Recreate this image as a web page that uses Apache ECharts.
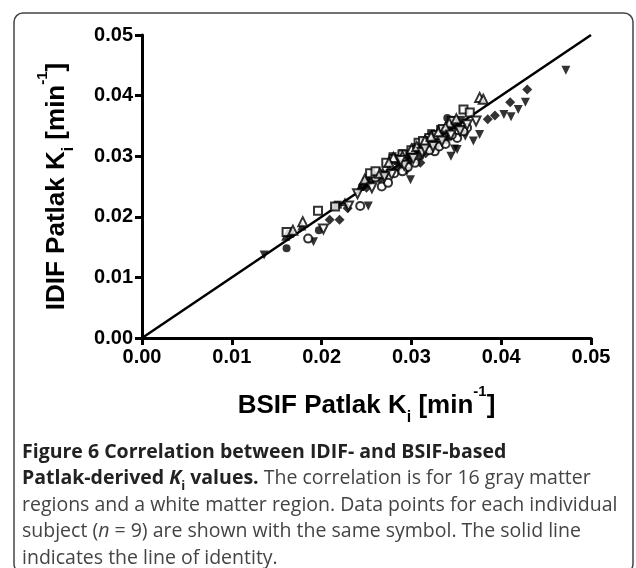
<!DOCTYPE html>
<html>
<head>
<meta charset="utf-8">
<script src="https://cdn.jsdelivr.net/npm/echarts@6/dist/echarts.min.js"></script>
<style>
html,body{margin:0;padding:0;background:#fff;}
#main{width:636px;height:568px;}
</style>
</head>
<body>
<div id="main"></div>
<script>
// Axis ticks
var xTicks = [0.00, 0.01, 0.02, 0.03, 0.04, 0.05];
var yTicks = [0.00, 0.01, 0.02, 0.03, 0.04, 0.05];

// Line of identity
var identity = [[0, 0], [0.05, 0.05]];

// Nine subjects, [BSIF Ki, IDIF Ki] per region (17 regions each)
var subjFilledTriDown = [[0.0136,0.0137],[0.0191,0.0159],[0.0252,0.0218],[0.0299,0.0261],[0.0344,0.0300],[0.0351,0.0311],[0.0360,0.0333],[0.0369,0.0325],[0.0376,0.0336],[0.0403,0.0369],[0.0411,0.0365],[0.0419,0.0377],[0.0427,0.0389],[0.0472,0.0442],[0.0348,0.0312],[0.0330,0.0318],[0.0295,0.0275]];
var subjFilledDiamond = [[0.0209,0.0195],[0.0220,0.0195],[0.0229,0.0214],[0.0310,0.0289],[0.0385,0.0361],[0.0393,0.0367],[0.0410,0.0389],[0.0429,0.0410],[0.0355,0.0345],[0.0340,0.0330],[0.0325,0.0315],[0.0300,0.0292],[0.0285,0.0280],[0.0265,0.0262],[0.0250,0.0248],[0.0316,0.0305],[0.0345,0.0338]];
var subjOpenCircle = [[0.0185,0.0164],[0.0243,0.0218],[0.0267,0.0250],[0.0274,0.0256],[0.0281,0.0272],[0.0304,0.0289],[0.0326,0.0308],[0.0331,0.0316],[0.0351,0.0330],[0.0362,0.0347],[0.0296,0.0282],[0.0290,0.0275],[0.0320,0.0310],[0.0338,0.0320],[0.0260,0.0265],[0.0345,0.0335],[0.0358,0.0341]];
var subjOpenSquare = [[0.0161,0.0175],[0.0196,0.0210],[0.0215,0.0217],[0.0254,0.0272],[0.0272,0.0289],[0.0308,0.0322],[0.0358,0.0377],[0.0365,0.0372],[0.0320,0.0330],[0.0290,0.0303],[0.0335,0.0345],[0.0300,0.0310],[0.0280,0.0295],[0.0260,0.0275],[0.0345,0.0358],[0.0328,0.0335],[0.0313,0.0325]];
var subjOpenTriUp = [[0.0168,0.0178],[0.0179,0.0192],[0.0376,0.0397],[0.0380,0.0394],[0.0248,0.0262],[0.0280,0.0298],[0.0300,0.0312],[0.0315,0.0326],[0.0330,0.0340],[0.0342,0.0355],[0.0290,0.0300],[0.0265,0.0272],[0.0322,0.0333],[0.0350,0.0362],[0.0306,0.0316],[0.0275,0.0290],[0.0338,0.0348]];
var subjFilledCircle = [[0.0161,0.0148],[0.0197,0.0178],[0.0340,0.0363],[0.0215,0.0218],[0.0245,0.0250],[0.0270,0.0270],[0.0285,0.0295],[0.0295,0.0300],[0.0305,0.0310],[0.0318,0.0322],[0.0328,0.0332],[0.0336,0.0342],[0.0345,0.0360],[0.0310,0.0300],[0.0290,0.0285],[0.0255,0.0262],[0.0350,0.0350]];
var subjFilledSquare = [[0.0165,0.0172],[0.0218,0.0220],[0.0279,0.0300],[0.0322,0.0338],[0.0337,0.0327],[0.0290,0.0305],[0.0300,0.0303],[0.0312,0.0318],[0.0332,0.0345],[0.0342,0.0350],[0.0348,0.0355],[0.0325,0.0328],[0.0285,0.0292],[0.0262,0.0268],[0.0250,0.0258],[0.0305,0.0315],[0.0355,0.0360]];
var subjFilledTriUp = [[0.0226,0.0225],[0.0243,0.0250],[0.0249,0.0261],[0.0178,0.0185],[0.0160,0.0168],[0.0275,0.0280],[0.0288,0.0298],[0.0298,0.0308],[0.0317,0.0327],[0.0328,0.0338],[0.0338,0.0345],[0.0345,0.0352],[0.0352,0.0358],[0.0308,0.0318],[0.0268,0.0275],[0.0295,0.0292],[0.0322,0.0322]];
var subjOpenTriDown = [[0.0202,0.0180],[0.0230,0.0218],[0.0256,0.0248],[0.0278,0.0270],[0.0292,0.0285],[0.0302,0.0296],[0.0312,0.0306],[0.0324,0.0316],[0.0334,0.0325],[0.0344,0.0335],[0.0354,0.0342],[0.0362,0.0352],[0.0372,0.0358],[0.0288,0.0293],[0.0315,0.0312],[0.0270,0.0266],[0.0240,0.0238]];

var chart = echarts.init(document.getElementById('main'), null, {renderer: 'canvas'});

function sc(name, data, symbol, rotate, size, empty) {
  return {
    name: name, type: 'scatter', data: data, symbol: symbol,
    symbolRotate: rotate, symbolSize: size, z: 3,
    itemStyle: empty ? {color: '#000', borderColor: '#000', borderWidth: 2} : {color: '#000', borderWidth: 0},
    emphasis: {disabled: true}
  };
}

var sansB = 'Liberation Sans, Arial, Helvetica, sans-serif';
var axisFont = {fontFamily: sansB, fontWeight: 'bold', fontSize: 20, color: '#000'};
var titleRich = {
  sub: {fontFamily: sansB, fontWeight: 'bold', fontSize: 16, verticalAlign: 'bottom', padding: [0,0,-7,0], color: '#000'},
  sup: {fontFamily: sansB, fontWeight: 'bold', fontSize: 15, verticalAlign: 'top', padding: [-9,0,0,0], color: '#000'}
};

var capFont = 'Open Sans, Noto Sans, sans-serif';
var capSize = 19.5;

var option = {
  animation: false,
  backgroundColor: '#fff',
  grid: {left: 142, right: 45, top: 35, bottom: 230},
  xAxis: {
    type: 'value', min: 0, max: 0.05, interval: 0.01,
    name: 'BSIF Patlak K{sub|i} [min{sup|-1}]',
    nameLocation: 'middle', nameGap: 55,
    nameTextStyle: {fontFamily: sansB, fontWeight: 'bold', fontSize: 26, color: '#000', rich: titleRich},
    axisLine: {onZero: false, lineStyle: {color: '#000', width: 3}},
    axisTick: {show: true, inside: false, length: 7, lineStyle: {color: '#000', width: 3}},
    axisLabel: Object.assign({margin: 9, formatter: function (v) { return v.toFixed(2); }}, axisFont),
    splitLine: {show: false}
  },
  yAxis: {
    type: 'value', min: 0, max: 0.05, interval: 0.01,
    name: 'IDIF Patlak K{sub|i} [min{sup|-1}]',
    nameLocation: 'middle', nameGap: 72, nameRotate: 90,
    nameTextStyle: {fontFamily: sansB, fontWeight: 'bold', fontSize: 26, color: '#000', rich: titleRich},
    axisLine: {onZero: false, lineStyle: {color: '#000', width: 3}},
    axisTick: {show: true, inside: false, length: 7, lineStyle: {color: '#000', width: 3}},
    axisLabel: Object.assign({margin: 9, formatter: function (v) { return v.toFixed(2); }}, axisFont),
    splitLine: {show: false}
  },
  series: [
    {name: 'identity', type: 'line', data: identity, showSymbol: false, symbol: 'none', z: 2,
     lineStyle: {color: '#000', width: 2.5}, emphasis: {disabled: true}},
    sc('S1', subjFilledCircle, 'circle', 0, 8, false),
    sc('S2', subjFilledSquare, 'rect', 0, 8, false),
    sc('S3', subjFilledTriUp, 'triangle', 0, 9, false),
    sc('S4', subjFilledTriDown, 'triangle', 180, 9, false),
    sc('S5', subjFilledDiamond, 'diamond', 0, 10, false),
    sc('S6', subjOpenCircle, 'emptyCircle', 0, 8, true),
    sc('S7', subjOpenSquare, 'emptyRect', 0, 8, true),
    sc('S8', subjOpenTriUp, 'emptyTriangle', 0, 9, true),
    sc('S9', subjOpenTriDown, 'emptyTriangle', 180, 9, true)
  ],
  graphic: [
    {type: 'rect', z: -1, shape: {x: 14, y: 13, width: 619, height: 560, r: 9},
     style: {fill: 'none', stroke: '#444', lineWidth: 1.5}},
    {type: 'text', left: 22, top: 442, style: {
      text: '{b|Figure 6 Correlation between IDIF- and BSIF-based}',
      rich: {b: {fontFamily: capFont, fontWeight: 'bold', fontSize: capSize, fill: '#222'}}}},
    {type: 'text', left: 22, top: 468.5, style: {
      text: '{b|Patlak-derived }{bi|K}{bs|i}{b| values.}{n| The correlation is for 16 gray matter}',
      rich: {
        b: {fontFamily: capFont, fontWeight: 'bold', fontSize: capSize, fill: '#222'},
        bi: {fontFamily: capFont, fontWeight: 'bold', fontStyle: 'italic', fontSize: capSize, fill: '#222'},
        bs: {fontFamily: capFont, fontWeight: 'bold', fontSize: 13, fill: '#222', verticalAlign: 'bottom', padding: [0,0,-4,0]},
        n: {fontFamily: capFont, fontSize: capSize, fill: '#444'}
      }}},
    {type: 'text', left: 22, top: 495, style: {
      text: 'regions and a white matter region. Data points for each individual',
      fontFamily: capFont, fontSize: capSize, fill: '#444'}},
    {type: 'text', left: 22, top: 521.5, style: {
      text: '{n|subject (}{i|n}{n| = 9) are shown with the same symbol. The solid line}',
      rich: {
        n: {fontFamily: capFont, fontSize: capSize, fill: '#444'},
        i: {fontFamily: capFont, fontStyle: 'italic', fontSize: capSize, fill: '#444'}
      }}},
    {type: 'text', left: 22, top: 548, style: {
      text: 'indicates the line of identity.',
      fontFamily: capFont, fontSize: capSize, fill: '#444'}}
  ]
};
chart.setOption(option);
</script>
</body>
</html>
